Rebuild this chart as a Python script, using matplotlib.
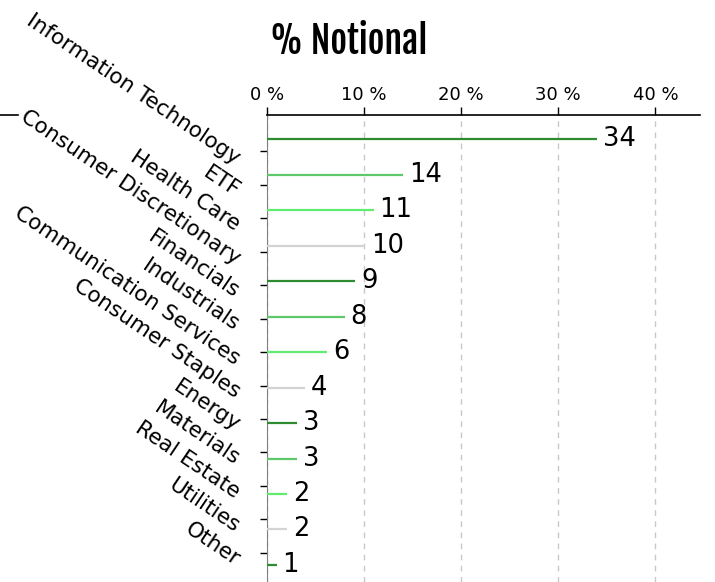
import matplotlib
matplotlib.use("Agg")
import matplotlib.pyplot as plt
import numpy as np
from matplotlib.lines import Line2D

sectors = ["Information Technology", "ETF", "Health Care", "Consumer Discretionary",
           "Financials", "Industrials", "Communication Services", "Consumer Staples",
           "Energy", "Materials", "Real Estate", "Utilities", "Other"]
notional = [34.0, 14.0, 11.0, 10.1, 9.1, 8.0, 6.2, 3.9, 3.1, 3.1, 2.1, 2.1, 1.0]
x_ticks = [0, 10, 20, 30, 40]

palette = ["#2e8b2e", "#5fc96a", "#5fec6f", "#d3d3d3"]

fig = plt.figure(figsize=(7.15, 5.82), dpi=100)
ax = fig.add_axes([267 / 715, 0.0, 433 / 715, 1 - 115 / 582])

ypos = np.arange(len(sectors))
for i, v in enumerate(notional):
    ax.hlines(ypos[i], 0, v, color=palette[i % 4], lw=1.6, zorder=3)
    ax.text(v + 0.6, ypos[i], "%d" % round(v), fontsize=18.5, va="center", ha="left")

ax.set_xlim(0, 44.6)
ax.set_ylim(12.48, -0.68)

# x axis on top
ax.xaxis.tick_top()
ax.set_xticks(x_ticks)
ax.set_xticklabels(["%d %%" % t for t in x_ticks], fontsize=13)
ax.tick_params(axis="x", direction="out", length=6, width=1, pad=2)
for t in x_ticks[1:]:
    ax.axvline(t, color="#c8c8c8", lw=1, ls=(0, (4, 4)), zorder=1)
ax.axvline(0, color="black", lw=0.8, ls=(0, (4, 4)), zorder=2)

# y ticks
ax.set_yticks(np.linspace(0.34, 11.66, len(sectors)))
ax.set_yticklabels(sectors, fontsize=15.5, rotation=-34, ha="right", va="top",
                   rotation_mode="anchor")
ax.tick_params(axis="y", direction="out", length=5, width=1, pad=12)

for s in ["right", "bottom"]:
    ax.spines[s].set_visible(False)
ax.spines["left"].set_color("gray")
ax.spines["top"].set_linewidth(1.2)

fig.add_artist(Line2D([0, 18 / 715], [1 - 115 / 582, 1 - 115 / 582],
                      transform=fig.transFigure, color="black", lw=1.2))

fig.text(349 / 715, 1 - 41 / 582, "% Notional",
         family=["Fjalla One", "DejaVu Sans"], fontsize=26, ha="center", va="center")

fig.savefig("out.png", dpi=100)
